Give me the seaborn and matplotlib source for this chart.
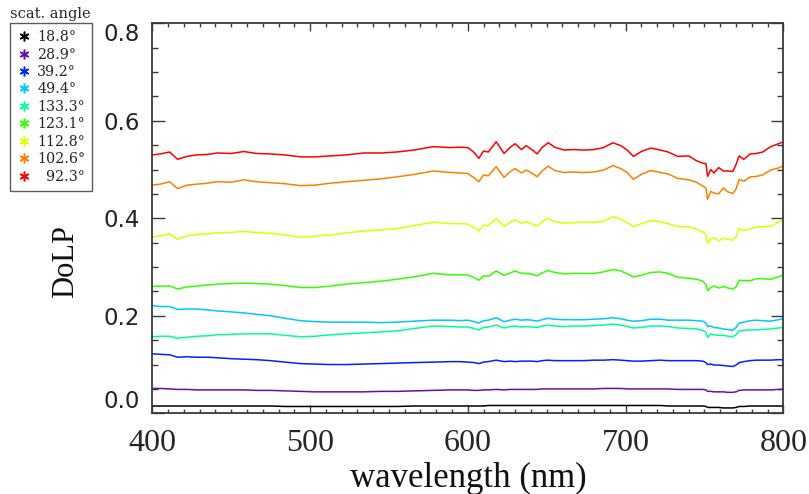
import numpy as np
import pandas as pd
import matplotlib
matplotlib.use("Agg")
import matplotlib.pyplot as plt
from matplotlib.lines import Line2D
from matplotlib.ticker import MultipleLocator
import seaborn as sns

# ---------------- data ----------------
wavelength = [400, 405, 411, 416, 422, 428, 435, 441, 450, 458, 466, 475, 484, 494, 503,
              513, 523, 534, 545, 555, 566, 578, 589, 595, 600, 604, 607, 610, 613, 618,
              623, 627, 630, 634, 637, 641, 644, 647, 651, 655, 661, 667, 673, 680, 686,
              692, 697, 701, 705, 710, 716, 722, 727, 733, 740, 745, 749, 751, 752, 754,
              756, 759, 762, 765, 768, 770, 772, 775, 779, 783, 787, 792, 797, 800]

angles = ["18.8°", "28.9°", "39.2°", "49.4°", "133.3°", "123.1°", "112.8°", "102.6°", "92.3°"]

dolp_18_8 = [0.015, 0.015, 0.015, 0.015, 0.015, 0.015, 0.015, 0.015, 0.015, 0.015, 0.015,
             0.015, 0.014, 0.014, 0.014, 0.014, 0.014, 0.014, 0.014, 0.014, 0.015, 0.015,
             0.015, 0.015, 0.015, 0.015, 0.015, 0.015, 0.016, 0.016, 0.016, 0.016, 0.016,
             0.016, 0.016, 0.016, 0.016, 0.016, 0.016, 0.016, 0.016, 0.016, 0.016, 0.016,
             0.016, 0.016, 0.016, 0.016, 0.016, 0.016, 0.016, 0.016, 0.015, 0.015, 0.015,
             0.015, 0.015, 0.014, 0.012, 0.012, 0.012, 0.012, 0.011, 0.011, 0.011, 0.012,
             0.014, 0.014, 0.015, 0.015, 0.015, 0.015, 0.015, 0.015]

dolp_28_9 = [0.051, 0.051, 0.050, 0.049, 0.049, 0.048, 0.048, 0.048, 0.048, 0.048, 0.047,
             0.047, 0.046, 0.045, 0.044, 0.044, 0.044, 0.044, 0.045, 0.045, 0.046, 0.047,
             0.048, 0.048, 0.048, 0.047, 0.047, 0.048, 0.048, 0.049, 0.048, 0.049, 0.049,
             0.049, 0.049, 0.049, 0.049, 0.050, 0.050, 0.050, 0.050, 0.050, 0.050, 0.050,
             0.051, 0.051, 0.051, 0.050, 0.050, 0.050, 0.050, 0.050, 0.050, 0.049, 0.049,
             0.049, 0.049, 0.048, 0.045, 0.045, 0.044, 0.044, 0.044, 0.043, 0.043, 0.044,
             0.047, 0.048, 0.048, 0.048, 0.048, 0.048, 0.049, 0.049]

dolp_39_2 = [0.122, 0.121, 0.120, 0.115, 0.116, 0.115, 0.115, 0.114, 0.112, 0.111, 0.110,
             0.108, 0.105, 0.102, 0.101, 0.100, 0.100, 0.101, 0.102, 0.103, 0.104, 0.105,
             0.106, 0.106, 0.105, 0.104, 0.102, 0.105, 0.106, 0.109, 0.106, 0.107, 0.106,
             0.107, 0.107, 0.107, 0.106, 0.108, 0.109, 0.108, 0.108, 0.108, 0.108, 0.109,
             0.109, 0.110, 0.109, 0.108, 0.107, 0.107, 0.108, 0.109, 0.108, 0.108, 0.108,
             0.108, 0.107, 0.104, 0.100, 0.101, 0.099, 0.099, 0.098, 0.097, 0.096, 0.099,
             0.104, 0.106, 0.108, 0.109, 0.109, 0.109, 0.110, 0.110]

dolp_49_4 = [0.221, 0.219, 0.219, 0.213, 0.214, 0.214, 0.212, 0.210, 0.208, 0.206, 0.203,
             0.200, 0.195, 0.190, 0.188, 0.187, 0.187, 0.187, 0.186, 0.187, 0.189, 0.191,
             0.191, 0.190, 0.191, 0.188, 0.185, 0.190, 0.191, 0.196, 0.188, 0.191, 0.193,
             0.191, 0.192, 0.191, 0.189, 0.192, 0.195, 0.193, 0.192, 0.192, 0.192, 0.193,
             0.194, 0.196, 0.194, 0.191, 0.189, 0.190, 0.193, 0.193, 0.191, 0.191, 0.191,
             0.190, 0.189, 0.185, 0.178, 0.179, 0.176, 0.175, 0.173, 0.172, 0.170, 0.176,
             0.185, 0.187, 0.190, 0.191, 0.190, 0.189, 0.192, 0.194]

dolp_133_3 = [0.157, 0.158, 0.158, 0.154, 0.156, 0.158, 0.159, 0.161, 0.162, 0.163, 0.163,
              0.163, 0.160, 0.157, 0.158, 0.161, 0.163, 0.165, 0.167, 0.169, 0.174, 0.179,
              0.178, 0.177, 0.177, 0.174, 0.171, 0.176, 0.177, 0.181, 0.175, 0.178, 0.179,
              0.177, 0.178, 0.177, 0.176, 0.179, 0.181, 0.179, 0.178, 0.179, 0.179, 0.180,
              0.181, 0.183, 0.181, 0.178, 0.175, 0.176, 0.179, 0.179, 0.178, 0.175, 0.174,
              0.173, 0.170, 0.166, 0.156, 0.163, 0.161, 0.160, 0.160, 0.158, 0.157, 0.161,
              0.169, 0.170, 0.171, 0.171, 0.172, 0.173, 0.175, 0.176]

dolp_123_1 = [0.260, 0.261, 0.261, 0.255, 0.259, 0.261, 0.263, 0.265, 0.266, 0.267, 0.266,
              0.265, 0.262, 0.258, 0.258, 0.261, 0.265, 0.268, 0.271, 0.275, 0.280, 0.287,
              0.284, 0.284, 0.284, 0.278, 0.273, 0.282, 0.281, 0.292, 0.283, 0.288, 0.292,
              0.287, 0.287, 0.285, 0.282, 0.288, 0.293, 0.289, 0.286, 0.287, 0.287, 0.287,
              0.290, 0.295, 0.292, 0.286, 0.280, 0.283, 0.289, 0.290, 0.287, 0.279, 0.277,
              0.275, 0.271, 0.263, 0.252, 0.258, 0.261, 0.257, 0.260, 0.257, 0.255, 0.259,
              0.273, 0.272, 0.272, 0.276, 0.276, 0.275, 0.280, 0.284]

dolp_112_8 = [0.362, 0.364, 0.368, 0.357, 0.364, 0.367, 0.368, 0.370, 0.371, 0.373, 0.371,
              0.369, 0.366, 0.361, 0.363, 0.366, 0.370, 0.374, 0.376, 0.379, 0.385, 0.392,
              0.389, 0.389, 0.388, 0.381, 0.375, 0.386, 0.385, 0.399, 0.384, 0.392, 0.397,
              0.390, 0.393, 0.388, 0.384, 0.393, 0.400, 0.393, 0.390, 0.391, 0.392, 0.392,
              0.394, 0.403, 0.398, 0.391, 0.383, 0.389, 0.395, 0.393, 0.389, 0.383, 0.383,
              0.378, 0.372, 0.366, 0.349, 0.358, 0.360, 0.354, 0.359, 0.357, 0.355, 0.362,
              0.379, 0.375, 0.378, 0.382, 0.383, 0.384, 0.392, 0.398]

dolp_102_6 = [0.468, 0.470, 0.475, 0.461, 0.468, 0.470, 0.472, 0.475, 0.474, 0.479, 0.475,
              0.473, 0.471, 0.467, 0.468, 0.472, 0.475, 0.478, 0.481, 0.485, 0.490, 0.497,
              0.494, 0.493, 0.492, 0.483, 0.475, 0.489, 0.487, 0.506, 0.484, 0.496, 0.502,
              0.493, 0.499, 0.492, 0.485, 0.497, 0.507, 0.498, 0.494, 0.495, 0.494, 0.495,
              0.499, 0.508, 0.502, 0.494, 0.480, 0.490, 0.498, 0.494, 0.491, 0.482, 0.479,
              0.474, 0.466, 0.462, 0.439, 0.455, 0.452, 0.450, 0.462, 0.454, 0.451, 0.460,
              0.480, 0.476, 0.485, 0.486, 0.489, 0.499, 0.503, 0.508]

dolp_92_3 = [0.530, 0.532, 0.536, 0.521, 0.527, 0.530, 0.531, 0.534, 0.533, 0.537, 0.533,
             0.532, 0.530, 0.526, 0.526, 0.528, 0.530, 0.534, 0.534, 0.536, 0.540, 0.547,
             0.545, 0.546, 0.545, 0.535, 0.523, 0.538, 0.536, 0.557, 0.533, 0.546, 0.553,
             0.541, 0.549, 0.540, 0.532, 0.545, 0.555, 0.546, 0.540, 0.541, 0.540, 0.541,
             0.545, 0.555, 0.549, 0.540, 0.527, 0.537, 0.544, 0.540, 0.536, 0.527, 0.528,
             0.518, 0.513, 0.512, 0.486, 0.500, 0.493, 0.504, 0.497, 0.497, 0.496, 0.510,
             0.528, 0.521, 0.532, 0.533, 0.536, 0.547, 0.553, 0.557]

series = [dolp_18_8, dolp_28_9, dolp_39_2, dolp_49_4, dolp_133_3,
          dolp_123_1, dolp_112_8, dolp_102_6, dolp_92_3]

colors = ["#000000", "#6a0dad", "#0022ff", "#00c8ff", "#00ff99",
          "#33ff00", "#ddff00", "#ff8000", "#ff0000"]

# ---------------- long-form table ----------------
frames = []
for name, vals in zip(angles, series):
    frames.append(pd.DataFrame({"wavelength": wavelength, "DoLP": vals, "angle": name}))
df = pd.concat(frames, ignore_index=True)

sns.set_style("ticks")
SERIF = ["Liberation Serif", "DejaVu Serif"]
LEGSERIF = ["DejaVu Serif"]

W, H = 809, 494
fig = plt.figure(figsize=(W / 100, H / 100), dpi=100)
ax = fig.add_axes([152.3 / W, (H - 413.3) / H, (783.3 - 152.3) / W, 390 / H])

sns.lineplot(data=df, x="wavelength", y="DoLP", hue="angle", hue_order=angles,
             palette=colors, linewidth=1.1, legend=False, ax=ax, sort=False)

ax.set_xlim(400, 800)
ax.set_ylim(0.0, 0.8)
ax.xaxis.set_major_locator(MultipleLocator(100))
ax.xaxis.set_minor_locator(MultipleLocator(10))
ax.yaxis.set_major_locator(MultipleLocator(0.2))
ax.yaxis.set_minor_locator(MultipleLocator(0.05))

axcol = "#3a3a3a"
for sp in ax.spines.values():
    sp.set_visible(True)
    sp.set_color(axcol)
    sp.set_linewidth(1.3)

ax.tick_params(axis="x", which="both", direction="in", top=True, bottom=True,
               color=axcol, width=1.0)
ax.tick_params(axis="x", which="major", length=5.5, pad=11)
ax.tick_params(axis="x", which="minor", length=2.8)
ax.tick_params(axis="y", which="both", direction="in", left=True, right=True,
               color=axcol, width=1.0)
ax.tick_params(axis="y", which="major", length=9, pad=9)
ax.tick_params(axis="y", which="minor", length=4.5)

ax.set_xticks([400, 500, 600, 700, 800])
ax.set_xticklabels(["400", "500", "600", "700", "800"], family=SERIF, fontsize=23)
ax.set_yticks([0.0, 0.2, 0.4, 0.6, 0.8])
ylabs = ax.set_yticklabels(["0.0", "0.2", "0.4", "0.6", "0.8"],
                           family=["DejaVu Sans"], fontsize=16.5, color="#222222")
ylabs[0].set_va("bottom")
ylabs[-1].set_va("top")

ax.set_xlabel("")
ax.set_ylabel("")
fig.text(468 / W, 1 - 478 / H, "wavelength (nm)", family=SERIF, fontsize=25,
         ha="center", va="center", color="#111111")
fig.text(66 / W, 1 - 262 / H, "DoLP", family=SERIF, fontsize=22, rotation=90,
         ha="center", va="center", color="#111111")

# ---------------- legend (IDL style) ----------------
handles = [Line2D([], [], linestyle="none", marker=(6, 2, 0), markersize=7,
                  markeredgewidth=1.1, color=c) for c in colors]
labels = [a if not a.startswith("92") else "  " + a for a in angles]
leg = fig.legend(handles, labels, loc="upper left",
                 bbox_to_anchor=(10 / W, 1 - 23 / H), bbox_transform=fig.transFigure,
                 borderaxespad=0, frameon=True, fancybox=False, shadow=False,
                 prop={"family": LEGSERIF, "size": 10.3}, handlelength=1.0,
                 handletextpad=0.4, borderpad=0.5, labelspacing=0.24)
leg.get_frame().set_edgecolor("#333333")
leg.get_frame().set_linewidth(1.0)
fig.text(10 / W, 1 - 14 / H, "scat. angle", family=LEGSERIF, fontsize=10.5,
         ha="left", va="center")

fig.savefig("out.png", dpi=100)
